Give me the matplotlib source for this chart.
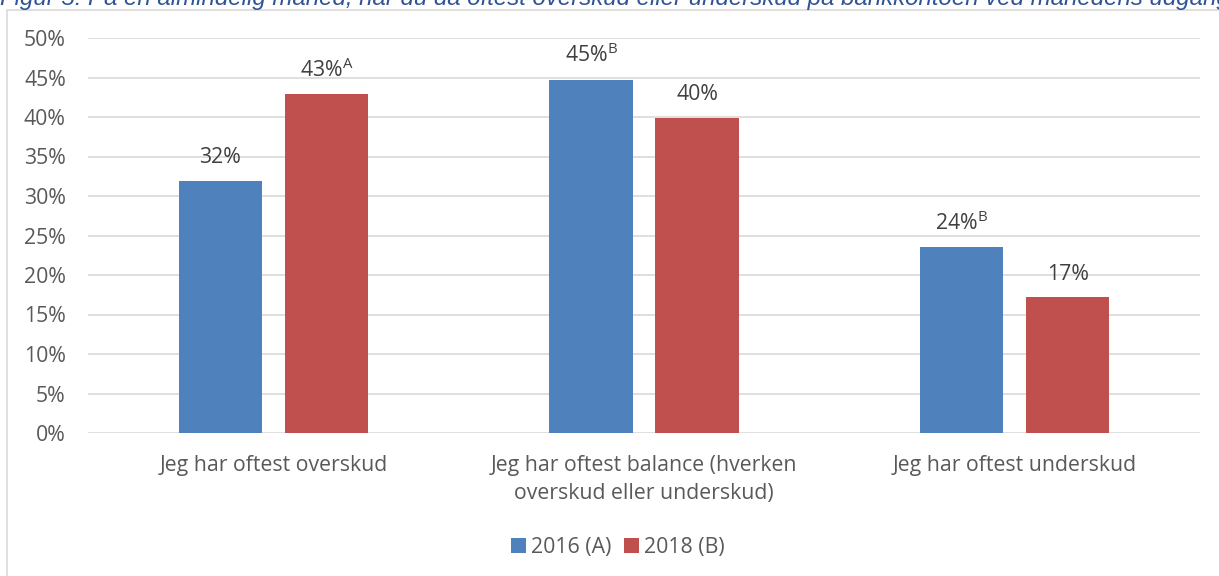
import matplotlib
matplotlib.use("Agg")
import matplotlib.pyplot as plt
import numpy as np
from matplotlib.patches import Rectangle

# Data
categories = [
    "Jeg har oftest overskud",
    "Jeg har oftest balance (hverken\noverskud eller underskud)",
    "Jeg har oftest underskud",
]
series_names = ["2016 (A)", "2018 (B)"]
values_2016 = [31.9, 44.7, 23.5]
values_2018 = [42.9, 39.9, 17.2]
labels_2016 = ["32%", "45%", "24%"]
labels_2018 = ["43%", "40%", "17%"]
sup_2016 = ["", "B", "B"]
sup_2018 = ["A", "", ""]
yticks = [0, 5, 10, 15, 20, 25, 30, 35, 40, 45, 50]

title = ("Figur 5: På en almindelig måned, har du da oftest overskud eller "
         "underskud på bankkontoen ved månedens udgang")

blue = "#4F81BD"
red = "#C0504D"
text_col = "#595959"
grid_col = "#D9D9D9"
fs = 15.3

plt.rcParams["font.family"] = ["Open Sans", "DejaVu Sans"]

W, H = 1219, 576
fig = plt.figure(figsize=(W / 100, H / 100), dpi=100)

# chart frame
fig.add_artist(Rectangle((7 / W, -0.1), 1.2, 1 - 9.5 / H + 0.1, transform=fig.transFigure,
                         fill=False, edgecolor="#D9D9D9", linewidth=1.2))

# title (clipped at the top of the image, as in the source)
fig.text(0.0, 1 - 5 / H, title, color="#2F5496", style="italic",
         fontsize=17.3, family="Liberation Sans", ha="left", va="baseline")

ax = fig.add_axes([88 / W, 1 - 433 / H, (1200 - 88) / W, (433 - 38) / H])

x = np.arange(len(categories))
bw = 0.224
off = 0.143
b1 = ax.bar(x - off, values_2016, bw, color=blue, label=series_names[0], zorder=3)
b2 = ax.bar(x + off, values_2018, bw, color=red, label=series_names[1], zorder=3)

ax.set_xlim(-0.5, 2.5)
ax.set_ylim(0, 50)
ax.set_yticks(yticks)
ax.set_yticklabels([f"{t}%" for t in yticks])
ax.yaxis.grid(True, color=grid_col, linewidth=1.2, zorder=0)
ax.set_axisbelow(True)
for s in ax.spines.values():
    s.set_visible(False)
ax.tick_params(axis="both", length=0, labelsize=fs, labelcolor=text_col)
ax.tick_params(axis="y", pad=16)
ax.set_xticks(x)
ax.set_xticklabels(categories, linespacing=1.45)
ax.tick_params(axis="x", pad=16)


def label(bars, texts, sups):
    for b, t, s in zip(bars, texts, sups):
        xc = b.get_x() + b.get_width() / 2
        yv = b.get_height()
        txt = t if not s else t + r"$^{\mathregular{" + s + "}}$"
        ax.annotate(txt, (xc, yv), xytext=(0, 9), textcoords="offset points",
                    ha="center", va="bottom", fontsize=fs, color="#404040")


label(b1, labels_2016, sup_2016)
label(b2, labels_2018, sup_2018)

leg = fig.legend(loc="center", bbox_to_anchor=(618 / W, 1 - 547 / H), ncol=2,
                 frameon=False, fontsize=fs, handlelength=0.7, handleheight=0.7,
                 handletextpad=0.25, columnspacing=0.6)
for t in leg.get_texts():
    t.set_color(text_col)

fig.savefig("out.png", dpi=100)
